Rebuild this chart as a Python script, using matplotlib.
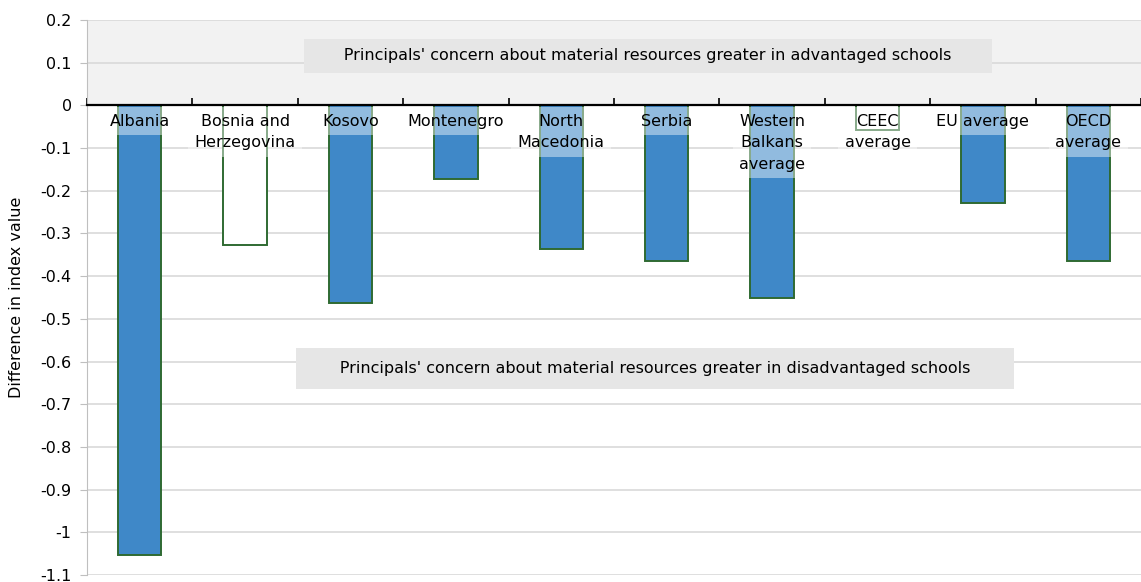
import numpy as np
import matplotlib.pyplot as plt
from matplotlib.ticker import FixedLocator

# difference in index of material resources (advantaged - disadvantaged schools)
countries = ['Albania', 'Bosnia and\nHerzegovina', 'Kosovo', 'Montenegro',
             'North\nMacedonia', 'Serbia', 'Western\nBalkans\naverage',
             'CEEC\naverage', 'EU average', 'OECD\naverage']
values = [-1.052, -0.326, -0.463, -0.172, -0.336, -0.365, -0.452, -0.057, -0.228, -0.364]
significant = [True, False, True, True, True, True, True, False, True, True]
yticks = [0.2, 0.1, 0, -0.1, -0.2, -0.3, -0.4, -0.5, -0.6, -0.7, -0.8, -0.9, -1, -1.1]

blue = '#3f88c8'
edge = '#2f6a32'
fs = 11.5

fig = plt.figure(figsize=(11.41, 5.82), dpi=100)
ax = fig.add_axes([87 / 1141, 7 / 582, 1 - 87 / 1141, 555 / 582])

x = np.arange(len(countries))
fills = [blue if s else 'white' for s in significant]
ax.bar(x, values, width=0.41, color=fills, edgecolor=edge, linewidth=1.4, zorder=2)

# shaded band above zero
ax.axhspan(0, 0.2, color='#f2f2f2', zorder=0)
ax.set_axisbelow(True)
ax.yaxis.grid(True, color='#d9d9d9', linewidth=1.2)

ax.set_xlim(-0.5, len(countries) - 0.5)
ax.set_ylim(-1.1, 0.2)
ax.yaxis.set_major_locator(FixedLocator(yticks))
ax.set_yticklabels(['0' if v == 0 else f'{v:g}' for v in yticks], fontsize=fs)
ax.tick_params(axis='y', color='#bfbfbf', length=5, pad=6)
ax.set_ylabel('Difference in index value', fontsize=fs)
ax.yaxis.set_label_coords(-0.06, 0.5)

# zero axis with category separators
ax.spines['bottom'].set_position(('data', 0))
ax.spines['bottom'].set_color('black')
ax.spines['bottom'].set_linewidth(1.6)
ax.spines['bottom'].set_zorder(3)
ax.set_xticks(np.arange(-0.5, len(countries), 1.0))
ax.set_xticklabels([])
ax.tick_params(axis='x', direction='in', length=5, width=1.2, color='black')
ax.spines['left'].set_color('#bfbfbf')
ax.spines['top'].set_visible(False)
ax.spines['right'].set_visible(False)

# category labels just under the zero line
for xi, name in zip(x, countries):
    ax.annotate(name, (xi, 0), xytext=(0, -6), textcoords='offset points',
                ha='center', va='top', fontsize=fs, linespacing=1.55,
                bbox=dict(boxstyle='square,pad=0.4', fc='white', ec='none', alpha=0.43),
                zorder=4)

ax.text(4.82, 0.116,
        ' ' * 6 + "Principals' concern about material resources greater in advantaged schools" + ' ' * 6,
        ha='center', va='center', fontsize=fs,
        bbox=dict(boxstyle='square,pad=0.58', fc='#e6e6e6', ec='none'), zorder=4)
ax.text(4.89, -0.617,
        ' ' * 6 + "Principals' concern about material resources greater in disadvantaged schools" + ' ' * 6,
        ha='center', va='center', fontsize=fs,
        bbox=dict(boxstyle='square,pad=0.82', fc='#e6e6e6', ec='none'), zorder=4)

fig.savefig('out.png', dpi=100)
